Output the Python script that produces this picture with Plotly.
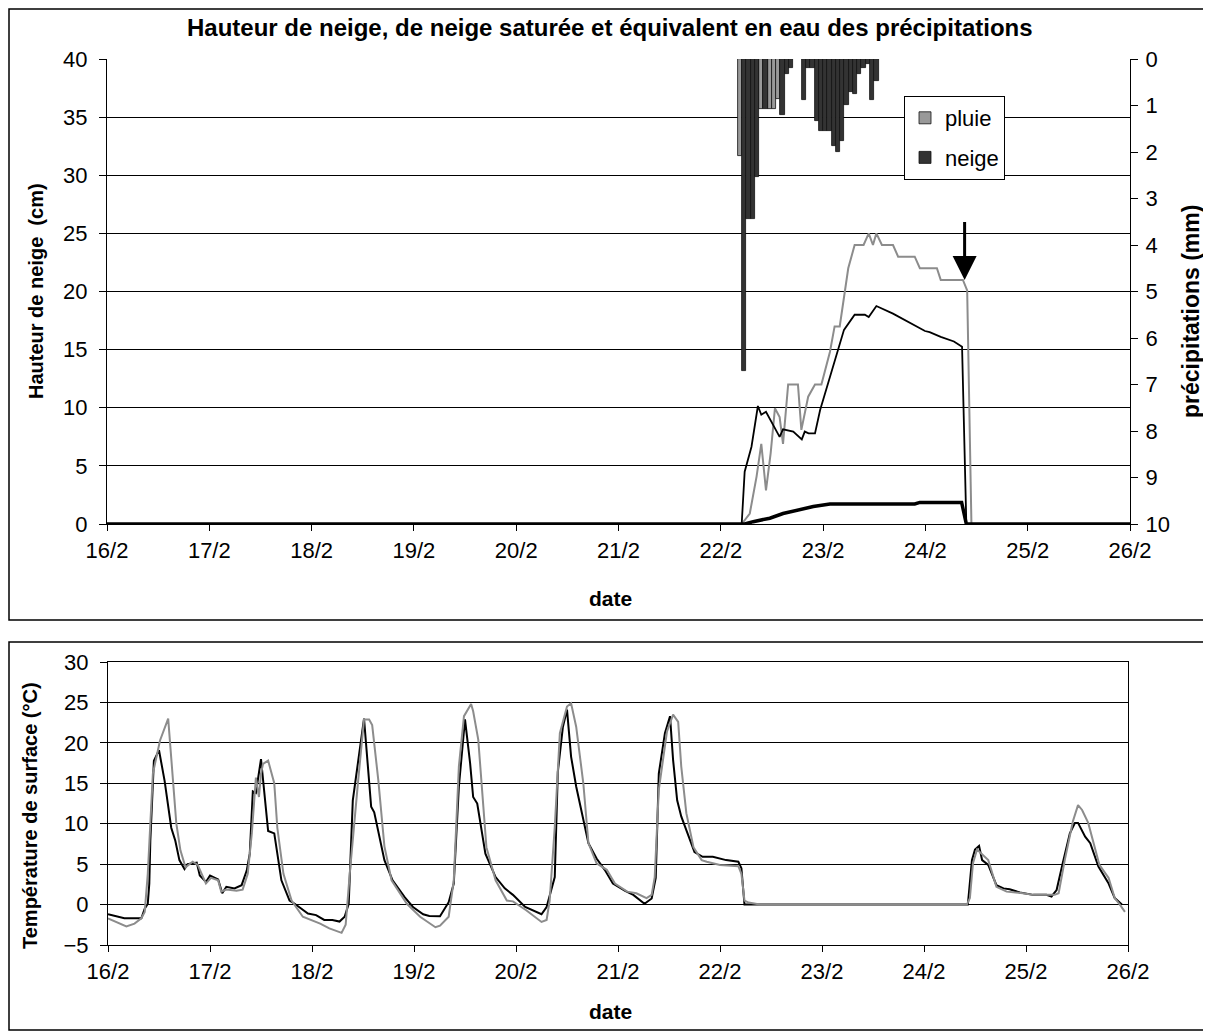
import pandas as pd
import plotly.graph_objects as go

# page is rendered with an 8px body margin; figure sized to fit the 1211x1035 window
OFF = 8
FW, FH = 1211 - OFF, 1035 - OFF

# ---------------- DATA ----------------
# precipitation (mm), hourly, hours counted from 22/2 00:00
pluie_hours = [4, 9, 11, 12, 13]
pluie_mm = [2.09, 1.08, 1.08, 1.08, 0.87]
neige_hours = [5, 6, 7, 8, 10, 14, 15, 16, 19, 20, 21, 22, 23, 24, 25, 26, 27, 28,
               29, 30, 31, 32, 33, 34, 35, 36]
neige_mm = [6.72, 3.43, 3.43, 2.54, 1.08, 1.21, 0.33, 0.2, 0.88, 0.2, 0.2, 1.33, 1.55,
            1.55, 1.55, 1.87, 2.0, 1.76, 0.99, 0.7, 0.75, 0.33, 0.2, 0.1, 0.88, 0.47]

# snow heights (cm), hours from 22/2 00:00
hs_grey_hours = [-144, 4.9, 6.8, 8.4, 9.5, 10.6, 11.7, 12.7, 13.8, 14.6, 15.8, 18.1, 18.9,
                 20.5, 22.1, 23.6, 25.6, 26.7, 27.9, 28.9, 29.9, 31.4, 33.5, 34.7, 35.7,
                 36.5, 37.8, 40.4, 41.6, 45.5, 46.7, 50.7, 51.6, 56.8, 57.8, 58.8, 96]
hs_grey_cm = [0, 0, 0.9, 4.1, 6.9, 2.9, 6.1, 9.95, 9.2, 6.9, 12, 12, 8.1, 10.95, 12, 12,
              14.8, 17, 17, 19.3, 22, 24, 24, 25, 24, 25, 24, 24, 23, 23, 22, 22, 21, 21,
              20.1, 0, 0]
hs_black_hours = [-144, 4.9, 5.6, 7.2, 8.7, 9.5, 10.6, 12.3, 13.8, 14.6, 17.0, 19.0, 19.7,
                  20.6, 22.1, 23.3, 24.9, 26.8, 28.9, 31.4, 33.8, 34.7, 36.5, 40.4, 44.3,
                  47.9, 49.0, 51.6, 54.7, 56.6, 57.6, 96]
hs_black_cm = [0, 0, 4.5, 6.65, 10.15, 9.4, 9.66, 8.5, 7.5, 8.15, 7.95, 7.28, 7.95, 7.8,
               7.8, 9.8, 11.8, 14.1, 16.7, 18, 18, 17.8, 18.75, 18.1, 17.3, 16.6, 16.5,
               16.1, 15.7, 15.25, 0, 0]
hsat_hours = [-144, 5.6, 7.6, 11.5, 14.6, 18.5, 21.7, 25.6, 45.5, 46.7, 56.5, 57.6, 96]
hsat_cm = [0, 0, 0.2, 0.5, 0.9, 1.26, 1.5, 1.72, 1.72, 1.86, 1.86, 0, 0]

# arrow (hours from 22/2, cm)
arrow_hour = 57.2
arrow_tip_cm = 21.0
arrow_tail_cm = 26.1

# surface temperature (°C), days from 16/2 00:00
tb_days = [0, 0.098, 0.16, 0.327, 0.36, 0.39, 0.405, 0.415, 0.45, 0.5, 0.555, 0.62, 0.66,
           0.70, 0.75, 0.78, 0.87, 0.9, 0.96, 1.0, 1.08, 1.12, 1.16, 1.24, 1.31, 1.36, 1.39,
           1.42, 1.45, 1.5, 1.57, 1.63, 1.70, 1.78, 1.83, 1.96, 2.04, 2.12, 2.2, 2.27, 2.32,
           2.36, 2.40, 2.51, 2.58, 2.61, 2.71, 2.79, 2.91, 2.99, 3.09, 3.15, 3.255, 3.34,
           3.39, 3.44, 3.48, 3.50, 3.55, 3.58, 3.62, 3.70, 3.80, 3.89, 3.97, 4.09, 4.25,
           4.30, 4.38, 4.41, 4.46, 4.50, 4.54, 4.59, 4.71, 4.79, 4.87, 4.95, 5.07, 5.15,
           5.26, 5.33, 5.37, 5.40, 5.46, 5.51, 5.54, 5.58, 5.62, 5.67, 5.75, 5.83, 5.93,
           6.06, 6.18, 6.21, 6.24, 8.43, 8.47, 8.50, 8.54, 8.57, 8.63, 8.71, 8.78, 8.84,
           8.94, 9.07, 9.20, 9.25, 9.30, 9.36, 9.43, 9.48, 9.51, 9.58, 9.63, 9.71, 9.81,
           9.87, 9.94]
tb_val = [-1.2, -1.45, -1.7, -1.7, -0.5, 0.1, 2.6, 7.9, 17.8, 19.1, 15.3, 9.5, 7.9, 5.5,
          4.4, 5, 5.2, 3.6, 2.8, 3.6, 3.1, 1.4, 2.2, 2.0, 2.4, 4.2, 6.3, 14, 13.8, 18.0,
          9.1, 8.8, 3.0, 0.5, 0.1, -1.1, -1.3, -1.9, -1.9, -2.1, -1.5, 0.1, 12.9, 23,
          12.1, 11.4, 5.5, 3.0, 0.9, -0.3, -1.2, -1.4, -1.45, 0.3, 2.6, 14.6, 20.4, 22.9,
          17.5, 13.3, 12.5, 6.3, 3.4, 2.0, 1.2, -0.3, -1.2, -0.3, 3.4, 16.4, 22.0, 24.1,
          18.3, 14.6, 7.6, 5.7, 4.3, 2.6, 1.7, 1.2, 0.1, 0.75, 3.3, 16.2, 21.2, 23.3, 17.9,
          12.9, 10.9, 9.2, 6.5, 5.9, 5.9, 5.5, 5.3, 4.5, 0, 0, 5.5, 6.8, 7.25, 5.5, 4.9,
          2.4, 2.0, 1.9, 1.5, 1.2, 1.2, 1.0, 1.8, 5.1, 8.8, 10.1, 10.1, 8.4, 7.6, 4.7,
          2.6, 0.8, 0]
tg_days = [0, 0.18, 0.26, 0.327, 0.36, 0.39, 0.44, 0.51, 0.59, 0.63, 0.67, 0.71, 0.76,
           0.83, 0.88, 0.96, 1.01, 1.08, 1.11, 1.16, 1.26, 1.32, 1.37, 1.41, 1.45, 1.48,
           1.50, 1.52, 1.57, 1.63, 1.66, 1.72, 1.80, 1.91, 2.08, 2.17, 2.29, 2.33, 2.37,
           2.45, 2.51, 2.56, 2.59, 2.65, 2.71, 2.78, 2.93, 3.06, 3.21, 3.255, 3.34, 3.39,
           3.44, 3.49, 3.56, 3.58, 3.63, 3.68, 3.71, 3.80, 3.91, 3.97, 4.10, 4.25, 4.30,
           4.33, 4.38, 4.43, 4.50, 4.54, 4.59, 4.66, 4.71, 4.79, 4.89, 4.97, 5.09, 5.18,
           5.28, 5.33, 5.36, 5.40, 5.48, 5.54, 5.59, 5.62, 5.67, 5.74, 5.82, 5.87, 6.0,
           6.18, 6.21, 6.24, 6.28, 6.39, 8.42, 8.45, 8.48, 8.52, 8.56, 8.63, 8.71, 8.81,
           8.97, 9.07, 9.28, 9.32, 9.38, 9.46, 9.51, 9.55, 9.61, 9.66, 9.72, 9.81, 9.87,
           9.92, 9.97]
tg_val = [-1.7, -2.7, -2.35, -1.7, -0.9, 3.8, 16.2, 20.3, 23.0, 17.0, 10.0, 6.7, 4.6, 5.3,
          4.9, 2.6, 3.3, 3.0, 1.6, 1.85, 1.7, 1.85, 3.8, 8.8, 15.7, 13.3, 16.2, 17.4, 17.8,
          15, 9.5, 3.8, 0.5, -1.5, -2.35, -2.95, -3.5, -2.5, 3.8, 15, 22.9, 22.9, 22.2,
          15.4, 7.2, 3.0, 0.1, -1.5, -2.8, -2.6, -1.5, 3.0, 17.1, 23.3, 24.8, 23.9, 20.4,
          12.1, 7.1, 3.0, 0.5, 0.4, -0.7, -2.15, -1.9, 0.5, 9.6, 21.2, 24.5, 24.9, 22.0,
          15.0, 7.6, 5.1, 4.3, 2.6, 1.6, 1.4, 0.8, 1.2, 3.4, 14.2, 21.4, 23.5, 22.6, 17.1,
          11.3, 7.1, 5.5, 5.3, 4.9, 4.75, 3.8, 0.5, 0.25, 0, 0, 0.8, 5.1, 6.8, 6.3, 5.5,
          2.2, 1.6, 1.4, 1.2, 1.2, 1.4, 5.5, 10.3, 12.3, 11.7, 10.1, 7.6, 4.9, 3.3, 0.8,
          0, -0.9]

# axis tick values
top_y_ticks = [0, 5, 10, 15, 20, 25, 30, 35, 40]
precip_ticks = list(range(0, 11))
temp_ticks = [-5, 0, 5, 10, 15, 20, 25, 30]

# ---------------- helpers ----------------
base22 = pd.Timestamp("2008-02-22")
base16 = pd.Timestamp("2008-02-16")
start, end = pd.Timestamp("2008-02-16"), pd.Timestamp("2008-02-26")


def hrs(h):
    return base22 + pd.to_timedelta(pd.Series(h, dtype=float), unit="h")


def days(d):
    return base16 + pd.to_timedelta(pd.Series(d, dtype=float), unit="D")


def fx(p):  # page pixel -> paper x
    return (p - OFF) / FW


def fy(p):  # page pixel -> paper y
    return 1 - (p - OFF) / FH


GREY = "#8c8c8c"
FONT = "Liberation Sans, Arial, sans-serif"

fig = go.Figure()

# precipitation bars (right axis, reversed)
fig.add_trace(go.Bar(x=hrs([h + 0.5 for h in pluie_hours]), y=pluie_mm, name="pluie",
                     width=3600000, marker=dict(color="#999999", line=dict(color="#111111", width=0.8)),
                     xaxis="x", yaxis="y2", legendgroup="a"))
fig.add_trace(go.Bar(x=hrs([h + 0.5 for h in neige_hours]), y=neige_mm, name="neige",
                     width=3600000, marker=dict(color="#333333", line=dict(color="#111111", width=0.8)),
                     xaxis="x", yaxis="y2", legendgroup="b"))

# snow heights
fig.add_trace(go.Scatter(x=hrs(hs_grey_hours), y=hs_grey_cm, mode="lines",
                         line=dict(color=GREY, width=2), showlegend=False, xaxis="x", yaxis="y"))
fig.add_trace(go.Scatter(x=hrs(hs_black_hours), y=hs_black_cm, mode="lines",
                         line=dict(color="black", width=1.8), showlegend=False, xaxis="x", yaxis="y"))
fig.add_trace(go.Scatter(x=hrs(hsat_hours), y=hsat_cm, mode="lines",
                         line=dict(color="black", width=3.5), showlegend=False, xaxis="x", yaxis="y"))

# temperatures
fig.add_trace(go.Scatter(x=days(tb_days), y=tb_val, mode="lines",
                         line=dict(color="black", width=2), showlegend=False, xaxis="x2", yaxis="y3"))
fig.add_trace(go.Scatter(x=days(tg_days), y=tg_val, mode="lines",
                         line=dict(color=GREY, width=2), showlegend=False, xaxis="x2", yaxis="y3"))

# ---------------- layout ----------------
tickfont = dict(family=FONT, size=22, color="black")
xcommon = dict(type="date", range=[start, end], dtick=86400000, tick0=start,
               tickformat="%-d/%-m", ticks="outside", ticklen=6, tickcolor="black",
               showline=True, linecolor="black", linewidth=1.2, showgrid=False,
               tickfont=tickfont, zeroline=False, automargin=False)
ycommon = dict(ticks="outside", ticklen=7, tickcolor="black", showline=True,
               linecolor="black", linewidth=1.2, zeroline=False, tickfont=tickfont,
               automargin=False)

fig.update_layout(
    width=FW, height=FH, autosize=False,
    margin=dict(l=0, r=0, t=0, b=0, pad=0, autoexpand=False),
    paper_bgcolor="white", plot_bgcolor="white",
    barmode="overlay", bargap=0,
    xaxis=dict(domain=[fx(107), fx(1130)], anchor="y", **xcommon),
    yaxis=dict(domain=[fy(524), fy(59)], anchor="x", range=[0, 40], tickvals=top_y_ticks,
               showgrid=True, gridcolor="black", gridwidth=1, ticklabelstandoff=7, **ycommon),
    yaxis2=dict(overlaying="y", side="right", anchor="x", range=[10, 0],
                tickvals=precip_ticks, showgrid=False, ticklabelstandoff=3, **ycommon),
    xaxis2=dict(domain=[fx(108), fx(1128)], anchor="y3", mirror=True, **xcommon),
    yaxis3=dict(domain=[fy(945), fy(662)], anchor="x2", range=[-5, 30], tickvals=temp_ticks,
                mirror=True, showgrid=True, gridcolor="black", gridwidth=1,
                ticklabelstandoff=7, **ycommon),
    legend=dict(x=fx(904), y=fy(96), xanchor="left", yanchor="top",
                bgcolor="white", bordercolor="black", borderwidth=1,
                font=dict(family=FONT, size=22, color="black"),
                traceorder="grouped", tracegroupgap=8, itemwidth=30),
    font=dict(family=FONT, color="black"),
    showlegend=True,
)

# frames around each chart
for (x0, y0, x1, y1) in [(9, 9, 1208, 620), (9, 642, 1208, 1030)]:
    fig.add_shape(type="rect", xref="paper", yref="paper",
                  x0=fx(x0), x1=fx(x1), y0=fy(y1), y1=fy(y0),
                  line=dict(color="black", width=1.5), fillcolor="rgba(0,0,0,0)", layer="below")

bold = lambda s: dict(family=FONT, size=s, color="black")
ann = [
    dict(text="<b>Hauteur de neige, de neige saturée et équivalent en eau des précipitations</b>",
         x=fx(610), y=fy(28), font=bold(24)),
    dict(text="<b>Hauteur de neige  (cm)</b>", x=fx(36), y=fy(291), font=bold(20), textangle=-90),
    dict(text="<b>précipitations (mm)</b>", x=fx(1191), y=fy(312), font=bold(23), textangle=-90),
    dict(text="<b>date</b>", x=fx(610), y=fy(598), font=bold(21)),
    dict(text="<b>date</b>", x=fx(610), y=fy(1011), font=bold(21)),
    dict(text="<b>Température de surface (°C)</b>", x=fx(30), y=fy(816), font=bold(20), textangle=-90),
]
for a in ann:
    fig.add_annotation(xref="paper", yref="paper", showarrow=False,
                       xanchor="center", yanchor="middle", **a)

# arrow pointing at the end of the snow cover
arrow_x = base22 + pd.Timedelta(hours=arrow_hour)
fig.add_annotation(x=arrow_x, y=arrow_tip_cm, ax=arrow_x, ay=arrow_tail_cm,
                   xref="x", yref="y", axref="x", ayref="y", text="",
                   showarrow=True, arrowhead=2, arrowsize=1.6, arrowwidth=3,
                   arrowcolor="black", standoff=0)

fig.write_html("out.html")
